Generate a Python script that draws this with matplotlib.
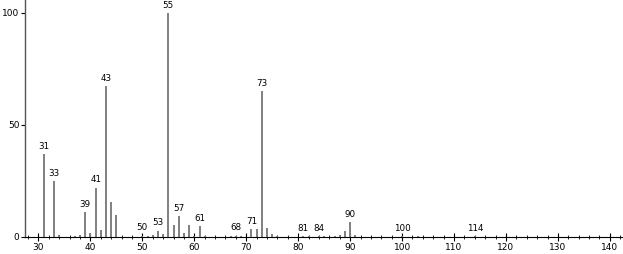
import matplotlib
matplotlib.use("Agg")
import matplotlib.pyplot as plt
from matplotlib.ticker import MultipleLocator

mz = [31, 33, 34, 37, 38, 39, 40, 41, 42, 43, 44, 45, 50, 51, 52, 53, 54, 55, 56, 57,
      58, 59, 60, 61, 62, 67, 68, 69, 71, 72, 73, 74, 75, 76, 81, 82, 84, 85, 87, 88,
      89, 90, 91, 100, 103, 114]
intensity = [37, 25, 1, 0.6, 0.8, 11.2, 2, 22, 3.1, 67.4, 15.5, 9.8, 0.6, 0.4, 1, 2.8, 1.3, 100, 5.5, 9.4,
             1.9, 5.5, 0.5, 4.9, 0.6, 0.4, 0.6, 0.4, 3.4, 3.4, 65, 4, 1.3, 0.6, 0.5, 0.4, 0.5, 0.4, 0.5, 0.8,
             2.7, 6.7, 0.7, 0.3, 0.3, 0.3]
labeled = [31, 33, 39, 41, 43, 50, 53, 55, 57, 61, 68, 71, 73, 81, 84, 90, 100, 114]
x_ticks = [30, 40, 50, 60, 70, 80, 90, 100, 110, 120, 130, 140]
y_ticks = [0, 50, 100]

fig = plt.figure(figsize=(6.23, 2.54), dpi=100)
ax = fig.add_axes([0.0401, 0.067, 0.958, 0.933])
ax.vlines(mz, 0, intensity, colors="#808080", linewidth=1.4)
for m, v in zip(mz, intensity):
    if m in labeled:
        ax.text(m, v + 1.5, str(m), ha="center", va="bottom", fontsize=6.3, color="black")

ax.set_xlim(27.4, 142.3)
ax.set_ylim(0, 105.8)
ax.set_xticks(x_ticks)
ax.set_yticks(y_ticks)
ax.xaxis.set_minor_locator(MultipleLocator(2))
ax.tick_params(axis="x", which="major", direction="inout", length=6, width=0.8, labelsize=6.5, pad=1)
ax.tick_params(axis="x", which="minor", direction="inout", length=3, width=0.6)
ax.tick_params(axis="y", which="major", direction="out", length=3, width=0.8, labelsize=6.5, pad=1)
for s in ["top", "right"]:
    ax.spines[s].set_visible(False)
ax.spines["left"].set_color("#555555")
ax.spines["left"].set_linewidth(1.0)
ax.spines["bottom"].set_linewidth(0.8)
fig.savefig("out.png", dpi=100)
